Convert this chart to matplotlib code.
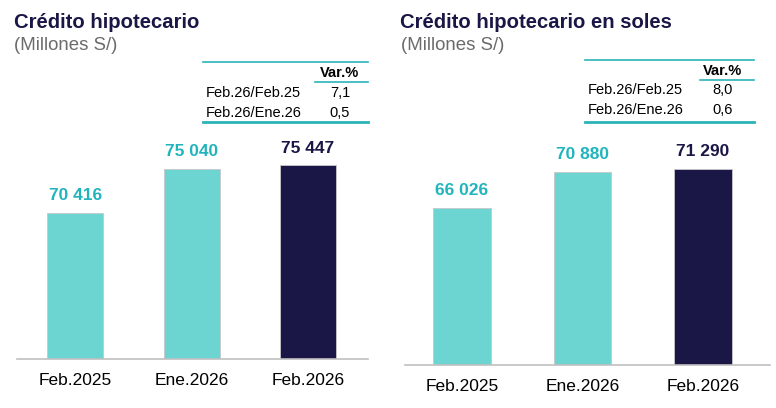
import matplotlib.pyplot as plt
from matplotlib.lines import Line2D

plt.rcParams["font.family"] = ["Liberation Sans", "DejaVu Sans"]

W, H = 776, 408

categories = ["Feb.2025", "Ene.2026", "Feb.2026"]

total_values = [70416, 75040, 75447]
soles_values = [66026, 70880, 71290]

var_rows = ["Feb.26/Feb.25", "Feb.26/Ene.26"]
total_var = ["7,1", "0,5"]
soles_var = ["8,0", "0,6"]

TEAL = "#6cd5d2"
TEAL_TXT = "#20b4bd"
NAVY = "#1a1646"
LINE = "#2bb3b8"
GREY_AX = "#c0c0c0"

fig = plt.figure(figsize=(W / 100, H / 100), dpi=100)


def fx(x):
    return x / W


def fy(y):
    return 1 - y / H


def fmt(v):
    return f"{v:,}".replace(",", " ")


def draw_panel(left, right, base, ymin, ymax, px_per_unit, xlim, values):
    height = (ymax - ymin) * px_per_unit
    ax = fig.add_axes([fx(left), fy(base), (right - left) / W, height / H])
    colors = [TEAL, TEAL, NAVY]
    x = range(len(values))
    ax.bar(x, values, width=0.48, color=colors, edgecolor="#c8c8c8", linewidth=0.6, bottom=0)
    ax.set_ylim(ymin, ymax)
    ax.set_xlim(*xlim)
    for s in ["top", "right", "left"]:
        ax.spines[s].set_visible(False)
    ax.spines["bottom"].set_color(GREY_AX)
    ax.spines["bottom"].set_linewidth(1.2)
    ax.set_yticks([])
    ax.set_xticks(list(x))
    ax.set_xticklabels(categories, fontsize=12.5, color="black")
    ax.tick_params(axis="x", length=0, pad=10)
    for i, v in enumerate(values):
        c = NAVY if i == 2 else TEAL_TXT
        ax.annotate(fmt(v), (i, v), xytext=(0, 12.5), textcoords="offset points",
                    ha="center", va="center", fontsize=12.5, fontweight="bold", color=c)
    return ax


def draw_table(x0, x1, top, hdr_y, ul_y, row_ys, bot, col_x, ul_x0, vals):
    fig.add_artist(Line2D([fx(x0), fx(x1)], [fy(top), fy(top)], color=LINE, lw=1.2))
    fig.text(fx(col_x), fy(hdr_y), "Var.%", ha="center", va="center",
             fontsize=10.5, fontweight="bold", color="black")
    fig.add_artist(Line2D([fx(ul_x0), fx(x1)], [fy(ul_y), fy(ul_y)], color=LINE, lw=1.2))
    for name, v, y in zip(var_rows, vals, row_ys):
        fig.text(fx(x0 + 3), fy(y), name, ha="left", va="center", fontsize=10.5, color="black")
        fig.text(fx(col_x), fy(y), v, ha="center", va="center", fontsize=10.5, color="black")
    fig.add_artist(Line2D([fx(x0), fx(x1)], [fy(bot), fy(bot)], color=LINE, lw=2))


# left panel
fig.text(fx(14), fy(22), "Crédito hipotecario", fontsize=14.6, fontweight="bold",
         color=NAVY, ha="left", va="center")
fig.text(fx(14), fy(46), "(Millones S/)", fontsize=13.4, color="#6b6b6b", ha="left", va="center")
draw_table(203, 368, 62, 73, 82, [93, 113], 122, 340, 315, total_var)
draw_panel(17, 368, 359, 55000, 78000, 0.00947, (-0.5, 2.515), total_values)

# right panel
fig.text(fx(400), fy(22), "Crédito hipotecario en soles", fontsize=14.6, fontweight="bold",
         color=NAVY, ha="left", va="center")
fig.text(fx(401), fy(45), "(Millones S/)", fontsize=13.4, color="#6b6b6b", ha="left", va="center")
draw_table(585, 754, 60, 71, 80, [90, 110], 122, 723, 700, soles_var)
draw_panel(405, 770, 365, 45000, 74000, 0.00747, (-0.473, 2.556), soles_values)

fig.savefig("out.png", dpi=100)
